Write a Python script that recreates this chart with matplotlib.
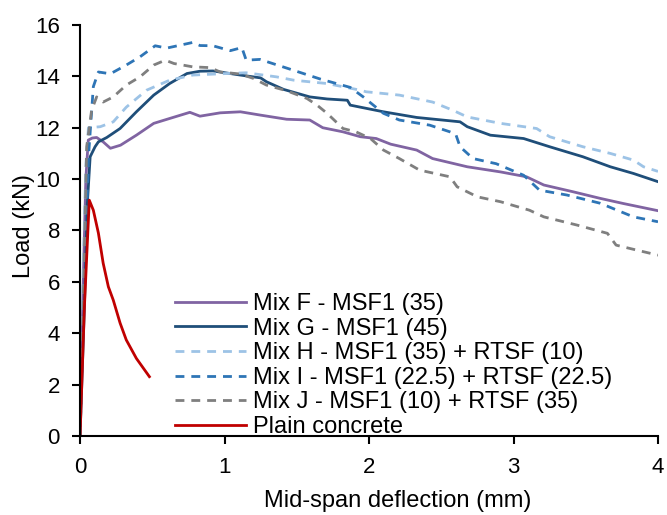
import matplotlib.pyplot as plt

plt.rcParams["font.family"] = ["Liberation Sans", "DejaVu Sans"]

# Load-deflection curves (deflection in mm, load in kN)
mix_f_x = [0, 0.02, 0.04, 0.057, 0.085, 0.115, 0.16, 0.21, 0.28, 0.39, 0.51, 0.62, 0.76, 0.83,
           0.97, 1.11, 1.25, 1.43, 1.59, 1.68, 1.82, 1.94, 2.05, 2.15, 2.33, 2.44, 2.68,
           2.91, 3.09, 3.21, 3.41, 3.6, 3.76, 4.0]
mix_f_y = [0, 5.5, 10.0, 11.52, 11.6, 11.62, 11.45, 11.2, 11.32, 11.71, 12.17, 12.36, 12.6, 12.45,
           12.58, 12.62, 12.49, 12.33, 12.3, 12.0, 11.84, 11.65, 11.58, 11.36, 11.13, 10.8, 10.48,
           10.28, 10.09, 9.77, 9.51, 9.25, 9.05, 8.77]

mix_g_x = [0, 0.03, 0.05, 0.07, 0.104, 0.127, 0.185, 0.277, 0.39, 0.51, 0.62, 0.74, 0.83, 0.92,
           1.11, 1.25, 1.29, 1.41, 1.59, 1.71, 1.85, 1.87, 2.1, 2.33, 2.63, 2.68, 2.84,
           3.07, 3.25, 3.48, 3.67, 3.83, 4.0]
mix_g_y = [0, 5.0, 9.0, 10.87, 11.26, 11.45, 11.62, 11.97, 12.62, 13.27, 13.72, 14.11, 14.2, 14.21,
           14.05, 13.94, 13.79, 13.49, 13.2, 13.12, 13.07, 12.88, 12.62, 12.4, 12.23, 12.04, 11.71,
           11.58, 11.26, 10.87, 10.48, 10.22, 9.9]

mix_h_x = [0, 0.02, 0.04, 0.058, 0.14, 0.23, 0.32, 0.46, 0.62, 0.78, 0.97, 1.15, 1.36, 1.48,
           1.71, 1.94, 1.98, 2.21, 2.44, 2.58, 2.68, 2.91, 3.16, 3.25, 3.48, 3.67, 3.83,
           3.9, 4.0]
mix_h_y = [0, 6.0, 10.5, 12.0, 12.04, 12.23, 12.8, 13.46, 13.85, 14.05, 14.1, 14.14, 13.98, 13.85,
           13.72, 13.46, 13.4, 13.27, 13.0, 12.68, 12.42, 12.17, 11.97, 11.65, 11.26, 11.0, 10.74,
           10.48, 10.3]

mix_i_x = [0, 0.03, 0.06, 0.092, 0.127, 0.21, 0.32, 0.415, 0.52, 0.6, 0.78, 0.83, 0.92, 1.04,
           1.12, 1.15, 1.245, 1.475, 1.66, 1.87, 1.96, 2.1, 2.21, 2.42, 2.56, 2.6, 2.63,
           2.72, 2.88, 3.07, 3.18, 3.37, 3.6, 3.83, 4.0]
mix_i_y = [0, 6.0, 11.0, 13.6, 14.17, 14.1, 14.44, 14.76, 15.19, 15.1, 15.32, 15.2, 15.19, 15.0,
           15.12, 14.63, 14.66, 14.24, 13.9, 13.57, 13.2, 12.56, 12.3, 12.1, 11.84, 11.75, 11.26,
           10.8, 10.6, 10.15, 9.57, 9.38, 9.06, 8.53, 8.34]

mix_j_x = [0, 0.025, 0.046, 0.08, 0.115, 0.16, 0.23, 0.32, 0.415, 0.51, 0.59, 0.65, 0.78, 0.9,
           0.97, 1.11, 1.2, 1.29, 1.43, 1.57, 1.64, 1.71, 1.82, 1.91, 2.01, 2.1, 2.21,
           2.35, 2.56, 2.61, 2.75, 2.91, 3.11, 3.21, 3.44, 3.65, 3.71, 3.85, 4.0]
mix_j_y = [0, 6.0, 11.26, 12.68, 13.2, 13.0, 13.2, 13.66, 13.98, 14.44, 14.63, 14.5, 14.37, 14.34,
           14.17, 14.09, 13.92, 13.66, 13.44, 13.14, 12.88, 12.56, 11.97, 11.84, 11.58, 11.13, 10.8,
           10.35, 10.09, 9.7, 9.31, 9.12, 8.79, 8.53, 8.21, 7.89, 7.43, 7.24, 7.04]

plain_x = [0, 0.03, 0.064, 0.092, 0.127, 0.16, 0.196, 0.23, 0.277, 0.32, 0.39, 0.48]
plain_y = [0, 5.0, 9.18, 8.79, 7.9, 6.73, 5.81, 5.29, 4.4, 3.74, 3.02, 2.31]

labels = [
    "Mix F - MSF1 (35)",
    "Mix G - MSF1 (45)",
    "Mix H - MSF1 (35) + RTSF (10)",
    "Mix I - MSF1 (22.5) + RTSF (22.5)",
    "Mix J - MSF1 (10) + RTSF (35)",
    "Plain concrete",
]

fig = plt.figure(figsize=(6.67, 5.15), dpi=100)
ax = fig.add_axes([0.12, 0.1534, 0.8665, 0.7981])

lw = 2.0
dash = (3.2, 2.5)
ax.plot(mix_f_x, mix_f_y, color="#8064A2", lw=lw, label=labels[0])
ax.plot(mix_g_x, mix_g_y, color="#1F4E79", lw=lw, label=labels[1])
ax.plot(mix_h_x, mix_h_y, color="#9DC3E6", lw=lw, dashes=dash, label=labels[2])
ax.plot(mix_i_x, mix_i_y, color="#2E75B6", lw=lw, dashes=dash, label=labels[3])
ax.plot(mix_j_x, mix_j_y, color="#7F7F7F", lw=lw, dashes=dash, label=labels[4])
ax.plot(plain_x, plain_y, color="#C00000", lw=lw, label=labels[5])

ax.set_xlim(0, 4)
ax.set_ylim(0, 16)
ax.set_xticks(range(0, 5))
ax.set_yticks(range(0, 17, 2))

for side in ("top", "right"):
    ax.spines[side].set_visible(False)
for side in ("left", "bottom"):
    ax.spines[side].set_linewidth(1.5)
    ax.spines[side].set_color("black")

ax.tick_params(axis="both", direction="out", length=5.5, width=1.5, labelsize=16)
ax.tick_params(axis="x", pad=9.5)
ax.tick_params(axis="y", pad=9)
ax.set_xlabel("Mid-span deflection (mm)", fontsize=17)
ax.set_ylabel("Load (kN)", fontsize=17)
ax.xaxis.set_label_coords(0.55, -0.131)
ax.yaxis.set_label_coords(-0.078, 0.51)

ax.legend(loc="lower left", bbox_to_anchor=(0.165, -0.005), frameon=False, fontsize=17,
          handlelength=3.0, handletextpad=0.3, labelspacing=0.11, borderpad=0, borderaxespad=0)

fig.savefig("out.png", dpi=100)
